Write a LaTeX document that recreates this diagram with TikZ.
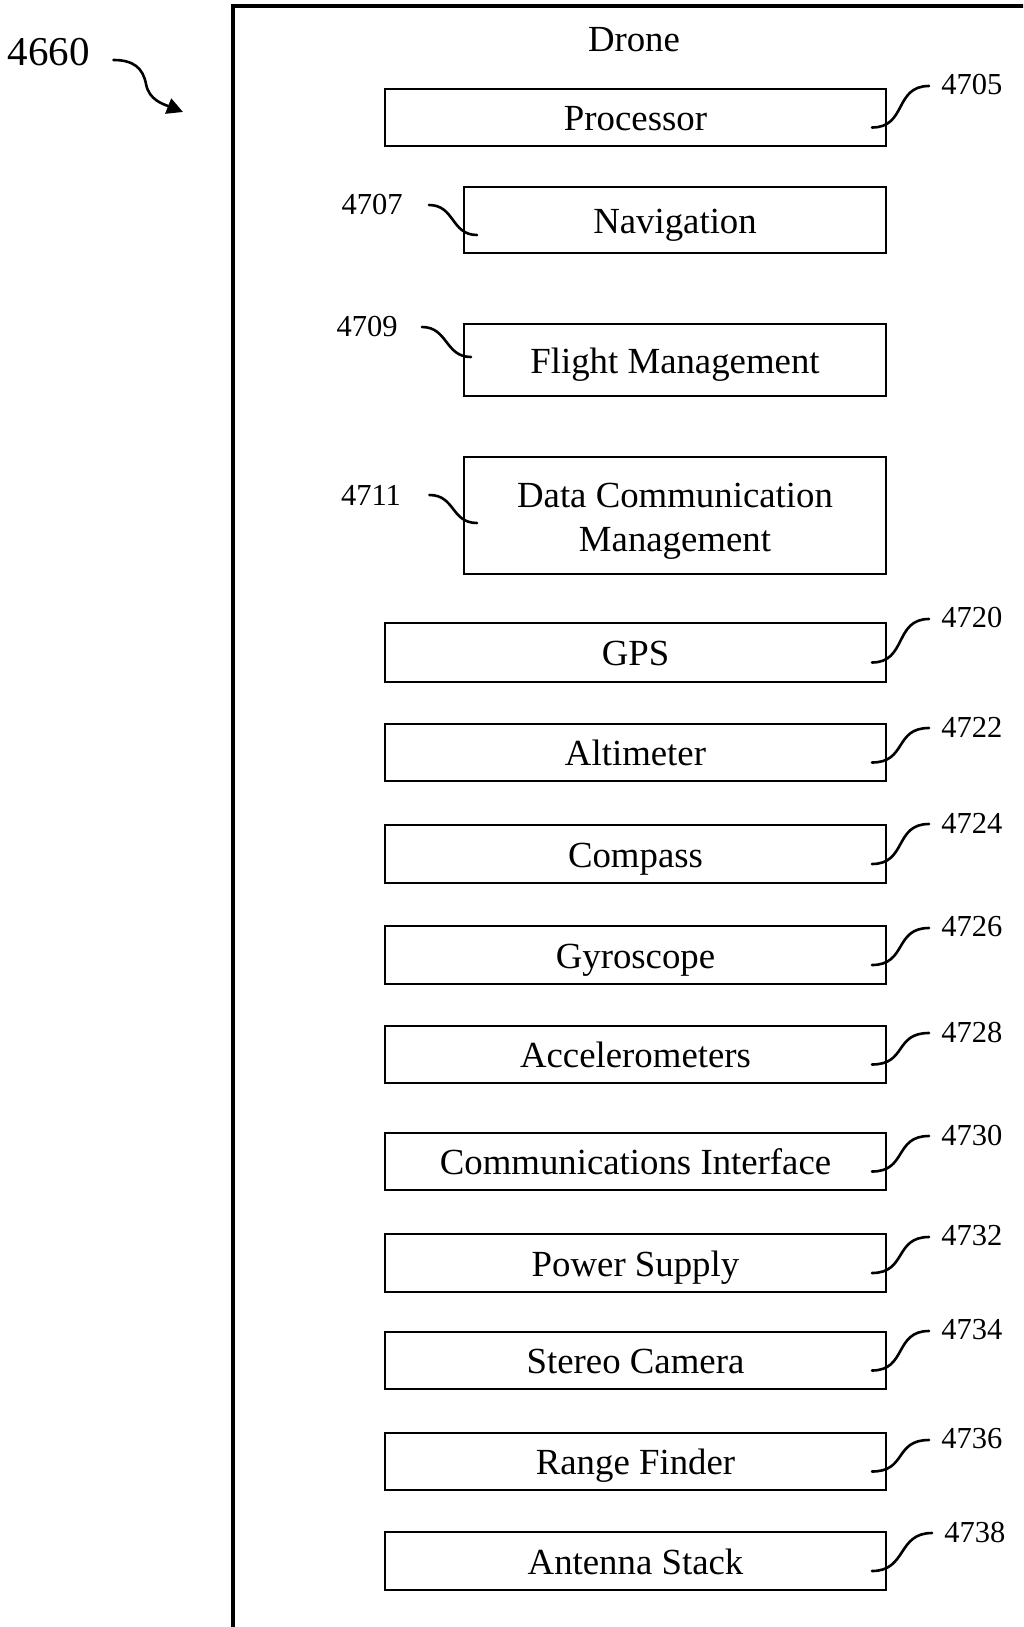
\documentclass[tikz,border=0pt]{standalone}
\usepackage{fontspec}
\setmainfont{Liberation Serif}
\usetikzlibrary{calc,arrows.meta}
\begin{document}
\begin{tikzpicture}[x=0.5pt,y=-0.5pt,
  boxfont/.style={font=\fontsize{18.4}{22}\selectfont},
  box/.style={draw, line width=1pt, boxfont, inner sep=0pt, minimum height=28.5pt,
              text height=14.7pt, text depth=1.5pt},
  widebox/.style={box, minimum width=250.5pt},
  narrowbox/.style={box, minimum width=211pt},
  num/.style={inner sep=0pt, font=\fontsize{15.25}{18}\selectfont},
  rnum/.style={num, anchor=west},
  leader/.style={line width=1.3pt, line cap=round},
  frame/.style={line width=1.6pt}]
\useasboundingbox (0,0) rectangle (1023,1627);
\clip (0,0) rectangle (1023,1627);

% outer drone frame (top and left edges visible)
\draw[frame] (233,1650) -- (233,6) -- (1050,6);
\node[boxfont, inner sep=0pt] (title) at (634,40) {Drone};

% figure label and arrow
\node[inner sep=0pt, font=\fontsize{20.5}{24}\selectfont] (n4660) at (49,52) {4660};
\coordinate (arrowtip) at (183,112);
\draw[leader, -{Triangle[length=8pt,width=8pt]}]
  ($(n4660.east)+(23,8)$) .. controls +(20,0) and +(-3,-16) .. (146,84)
  .. controls +(3,16) and +(-20,-8) .. (arrowtip);

% boxes
\node[widebox] (proc) at (635.5,117.5) {Processor};
\node[narrowbox, minimum height=33pt] (nav) at (675,220) {Navigation};
\node[narrowbox, minimum height=36pt] (flight) at (675,360) {Flight Management};
\node[narrowbox, minimum height=58.5pt, text height=0pt, text depth=0pt] (data) at (675,515.5) {};
\node[boxfont, align=center, inner sep=0pt] (datatext) at ($(data.center)+(0,6)$) {Data Communication\\Management};
\node[widebox, minimum height=29.5pt] (gps) at (635.5,652.5) {GPS};
\node[widebox] (alt) at (635.5,752.5) {Altimeter};
\node[widebox, minimum height=29pt] (comp) at (635.5,854) {Compass};
\node[widebox, minimum height=29pt] (gyro) at (635.5,955) {Gyroscope};
\node[widebox] (acc) at (635.5,1054.5) {Accelerometers};
\node[widebox] (commi) at (635.5,1161.5) {Communications Interface};
\node[widebox, minimum height=29pt] (power) at (635.5,1263) {Power Supply};
\node[widebox] (stereo) at (635.5,1360.5) {Stereo Camera};
\node[widebox] (range) at (635.5,1461.5) {Range Finder};
\node[widebox, minimum height=29pt] (ant) at (635.5,1561) {Antenna Stack};

% right-hand reference numerals
\node[rnum] (n4705) at (941,85) {4705};
\node[rnum] (n4720) at (941,618) {4720};
\node[rnum] (n4722) at (941,727) {4722};
\node[rnum] (n4724) at (941,823) {4724};
\node[rnum] (n4726) at (941,927) {4726};
\node[rnum] (n4728) at (941,1032) {4728};
\node[rnum] (n4730) at (941,1135) {4730};
\node[rnum] (n4732) at (941,1236) {4732};
\node[rnum] (n4734) at (941,1330) {4734};
\node[rnum] (n4736) at (941,1439) {4736};
\node[rnum] (n4738) at (944,1532) {4738};

\foreach \b/\n in {proc/n4705, gps/n4720, alt/n4722, comp/n4724, gyro/n4726,
                   acc/n4728, commi/n4730, power/n4732, stereo/n4734,
                   range/n4736, ant/n4738}{
  \draw[leader] ($(\b.east)+(-15,10)$) .. controls +(35,0) and +(-35,0) .. ($(\n.west)+(-12,1)$);
}

% left-hand reference numerals
\node[num] (n4707) at (372,205) {4707};
\node[num] (n4709) at (367,327) {4709};
\node[num] (n4711) at (371,495) {4711};

\draw[leader] ($(n4707.east)+(26,0)$) .. controls +(26,0) and +(-26,0) .. ($(nav.west)+(14,15)$);
\draw[leader] ($(n4709.east)+(24,0)$) .. controls +(26,0) and +(-26,0) .. ($(flight.west)+(8,-3)$);
\draw[leader] ($(n4711.east)+(28,0)$) .. controls +(26,0) and +(-26,0) .. ($(data.west)+(14,7.5)$);
\end{tikzpicture}
\end{document}
